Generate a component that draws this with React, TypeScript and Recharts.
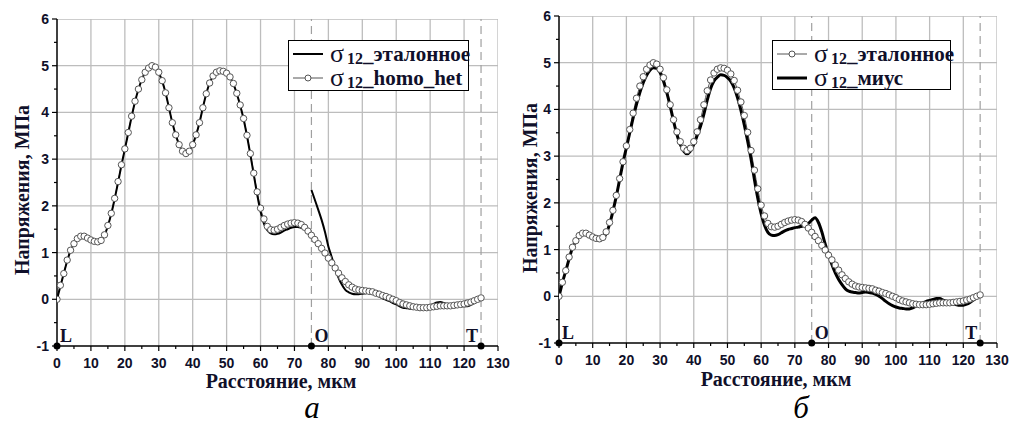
import React from 'react'
import { LineChart, Line, XAxis, YAxis, ReferenceLine, ReferenceDot, Legend } from 'recharts'

// σ12 reference solution (open circles), sampled every 1 µm from 0 to 125 µm
const REF = [
  0.0, 0.3, 0.55, 0.84, 1.05, 1.19, 1.3, 1.35, 1.35, 1.31,
  1.27, 1.24, 1.23, 1.26, 1.38, 1.58, 1.84, 2.16, 2.52, 2.88,
  3.22, 3.57, 3.92, 4.24, 4.5, 4.7, 4.86, 4.95, 5.0, 4.97,
  4.86, 4.68, 4.42, 4.1, 3.78, 3.52, 3.31, 3.17, 3.12, 3.17,
  3.31, 3.52, 3.78, 4.1, 4.4, 4.63, 4.78, 4.86, 4.89, 4.88,
  4.84, 4.76, 4.62, 4.41, 4.16, 3.87, 3.51, 3.12, 2.7, 2.3,
  1.95, 1.72, 1.56, 1.49, 1.48, 1.5, 1.54, 1.58, 1.61, 1.63,
  1.64, 1.63, 1.6, 1.54, 1.46, 1.37, 1.28, 1.19, 1.09, 0.99,
  0.88, 0.78, 0.67, 0.56, 0.46, 0.38, 0.31, 0.26, 0.22, 0.2,
  0.19, 0.18, 0.17, 0.16, 0.13, 0.11, 0.08, 0.06, 0.03, 0.0,
  -0.03, -0.07, -0.1, -0.12, -0.14, -0.16, -0.17, -0.18, -0.18, -0.18,
  -0.17, -0.16, -0.15, -0.14, -0.14, -0.14, -0.14, -0.13, -0.12, -0.11,
  -0.1, -0.08, -0.06, -0.03, 0.0, 0.03,
]

// panel (a) solid line, part before the interface O (0..75 µm)
const LEFT_SOLID_A = [
  0.0, 0.28, 0.55, 0.82, 1.04, 1.19, 1.3, 1.35, 1.35, 1.3,
  1.26, 1.23, 1.22, 1.25, 1.37, 1.57, 1.83, 2.15, 2.5, 2.87,
  3.21, 3.56, 3.91, 4.23, 4.49, 4.7, 4.86, 4.95, 4.99, 4.96,
  4.85, 4.67, 4.42, 4.1, 3.78, 3.52, 3.31, 3.17, 3.12, 3.17,
  3.31, 3.52, 3.78, 4.1, 4.4, 4.63, 4.78, 4.86, 4.88, 4.87,
  4.83, 4.75, 4.61, 4.4, 4.15, 3.86, 3.5, 3.1, 2.67, 2.25,
  1.88, 1.62, 1.48, 1.41, 1.39, 1.4, 1.43, 1.47, 1.5, 1.53,
  1.55, 1.55, 1.53, 1.5, 1.47, 1.45,
]

// panel (a) solid line, part after O (75..125 µm)
const LEFT_SOLID_B_START = 75
const LEFT_SOLID_B = [
  2.34, 2.13, 1.92, 1.7, 1.44, 1.13, 0.9, 0.66, 0.46, 0.31,
  0.2, 0.15, 0.12, 0.11, 0.11, 0.12, 0.13, 0.14, 0.13, 0.1,
  0.06, 0.02, -0.01, -0.04, -0.08, -0.11, -0.15, -0.18, -0.19, -0.2,
  -0.2, -0.2, -0.2, -0.19, -0.16, -0.13, -0.1, -0.07, -0.06, -0.08,
  -0.11, -0.13, -0.14, -0.15, -0.15, -0.15, -0.15, -0.12, -0.08, -0.04,
  0.01,
]

// panel (б) solid line (МИУС)
const MIUS = [
  0.0, 0.29, 0.54, 0.8, 1.04, 1.18, 1.29, 1.34, 1.33, 1.28,
  1.25, 1.22, 1.2, 1.23, 1.34, 1.54, 1.82, 2.14, 2.5, 2.86,
  3.18, 3.5, 3.82, 4.11, 4.36, 4.57, 4.73, 4.84, 4.89, 4.88,
  4.79, 4.61, 4.36, 4.07, 3.75, 3.46, 3.25, 3.11, 3.05, 3.11,
  3.25, 3.44, 3.64, 3.9, 4.2, 4.45, 4.61, 4.69, 4.74, 4.73,
  4.68, 4.6, 4.46, 4.25, 3.98, 3.67, 3.32, 2.94, 2.5, 2.1,
  1.77, 1.52, 1.37, 1.31, 1.3, 1.32, 1.36, 1.4, 1.43, 1.45,
  1.47, 1.48, 1.5, 1.52, 1.56, 1.63, 1.68, 1.58, 1.38, 1.12,
  0.9, 0.68, 0.5, 0.36, 0.25, 0.16, 0.11, 0.09, 0.08, 0.07,
  0.08, 0.09, 0.08, 0.07, 0.04, 0.0, -0.05, -0.11, -0.16, -0.2,
  -0.23, -0.25, -0.26, -0.27, -0.27, -0.25, -0.21, -0.17, -0.14, -0.11,
  -0.09, -0.07, -0.05, -0.05, -0.08, -0.11, -0.14, -0.16, -0.18, -0.19,
  -0.19, -0.17, -0.13, -0.08, -0.03, 0.01,
]

const X_DOMAIN: [number, number] = [0, 130]
const Y_DOMAIN: [number, number] = [-1, 6]
const X_TICKS = [0, 5, 10, 15, 20, 25, 30, 35, 40, 45, 50, 55, 60, 65, 70, 75, 80, 85, 90, 95, 100, 105, 110, 115, 120, 125, 130]
const X_MAJOR = [10, 20, 30, 40, 50, 60, 70, 80, 90, 100, 110, 120, 130]
const Y_TICKS = [-1, -0.5, 0, 0.5, 1, 1.5, 2, 2.5, 3, 3.5, 4, 4.5, 5, 5.5, 6]
const Y_MAJOR = [0, 1, 2, 3, 4, 5, 6]
const DASHED_AT = [75, 125]
const MARKS: { x: number; text: string; side: 'left' | 'right' }[] = [
  { x: 0, text: 'L', side: 'right' },
  { x: 75, text: 'O', side: 'right' },
  { x: 125, text: 'T', side: 'left' },
]

const X_TITLE = 'Расстояние, мкм'
const Y_TITLE = 'Напряжения, МПа'

const LEFT_ROWS = REF.map((v, i) => ({
  x: i,
  ref: v,
  a: i < LEFT_SOLID_A.length ? LEFT_SOLID_A[i] : null,
  b: i >= LEFT_SOLID_B_START ? LEFT_SOLID_B[i - LEFT_SOLID_B_START] : null,
}))

const RIGHT_ROWS = REF.map((v, i) => ({ x: i, ref: v, mius: MIUS[i] }))

// grid lines built from the major tick values, spanning the axis domains
const V_GRID = X_MAJOR.map((v) => [
  { x: v, y: Y_DOMAIN[0] },
  { x: v, y: Y_DOMAIN[1] },
])
const H_GRID = Y_MAJOR.map((v) => [
  { x: X_DOMAIN[0], y: v },
  { x: X_DOMAIN[1], y: v },
])

const SERIF = '"Liberation Serif", "Times New Roman", serif'
const SANS = '"Liberation Sans", Arial, sans-serif'
const INK = '#10102a'
const GRID = '#bdbdbd'
const CIRCLE = '#555'

function XTick(props: any) {
  const { x, y, payload } = props
  const v = payload.value
  const major = v % 10 === 0
  return (
    <g>
      <line x1={x} x2={x} y1={y} y2={y + (major ? 5 : 3)} stroke="#000" strokeWidth={1.2} />
      {major && (
        <text x={x} y={y + 17} textAnchor="middle" dominantBaseline="central" fontFamily={SANS} fontWeight="bold" fontSize={14} fill={INK}>
          {v}
        </text>
      )}
    </g>
  )
}

function YTick(props: any) {
  const { x, y, payload } = props
  const v = payload.value
  const major = Number.isInteger(v)
  return (
    <g>
      <line x1={x - (major ? 5 : 3)} x2={x} y1={y} y2={y} stroke="#000" strokeWidth={1.2} />
      {major && (
        <text x={x - 8} y={y} textAnchor="end" dominantBaseline="central" fontFamily={SANS} fontWeight="bold" fontSize={14} fill={INK}>
          {v}
        </text>
      )}
    </g>
  )
}

const markShape = (text: string, side: 'left' | 'right') => (p: any) => (
  <g>
    <circle cx={p.cx} cy={p.cy} r={3.5} fill="#000" />
    <text
      x={side === 'right' ? p.cx + 3 : p.cx - 3}
      y={p.cy - 4}
      textAnchor={side === 'right' ? 'start' : 'end'}
      fontFamily={SERIF}
      fontWeight="bold"
      fontSize={18}
      fill={INK}
    >
      {text}
    </text>
  </g>
)

interface LegendRow {
  label: string
  marker: boolean
  width: number
}

function LegendBox({ rows, w, h }: { rows: LegendRow[]; w: number; h: number }) {
  return (
    <div
      style={{
        width: w,
        height: h,
        boxSizing: 'border-box',
        border: '1px solid #000',
        background: '#fff',
        padding: '1px 4px',
        fontFamily: SERIF,
        color: INK,
      }}
    >
      {rows.map((r) => (
        <div key={r.label} style={{ display: 'flex', alignItems: 'center', height: 24, whiteSpace: 'nowrap' }}>
          <svg width={30} height={10} style={{ flex: 'none' }}>
            <line x1={0} x2={30} y1={5} y2={5} stroke={r.marker ? CIRCLE : '#000'} strokeWidth={r.width} />
            {r.marker && <circle cx={15} cy={5} r={3} fill="#fff" stroke={CIRCLE} strokeWidth={1} />}
          </svg>
          <span style={{ fontSize: 26, marginLeft: 7, lineHeight: '24px' }}>σ</span>
          <span style={{ fontSize: 16, fontWeight: 'bold', position: 'relative', top: 5, lineHeight: '24px', marginLeft: 3 }}>12</span>
          <span style={{ fontSize: 21, fontWeight: 'bold', lineHeight: '24px' }}>{r.label}</span>
        </div>
      ))}
    </div>
  )
}

function gridSeries(side: string) {
  return [...V_GRID, ...H_GRID].map((pts, i) => (
    <Line
      key={`${side}grid${i}`}
      data={pts}
      dataKey="y"
      type="linear"
      stroke={GRID}
      strokeWidth={1.3}
      dot={false}
      activeDot={false}
      legendType="none"
      isAnimationActive={false}
    />
  ))
}

export default function App() {
  const axisLine = { stroke: '#000', strokeWidth: 1.5 }
  const dashed = (side: string) =>
    DASHED_AT.map((v) => (
      <ReferenceLine key={`${side}d${v}`} x={v} stroke="#a0a0a0" strokeWidth={1.2} strokeDasharray="8 5" />
    ))
  const axes = (side: string) => [
    <XAxis
      key={`${side}x`}
      type="number"
      dataKey="x"
      domain={X_DOMAIN}
      ticks={X_TICKS}
      interval={0}
      tickSize={0}
      tickMargin={0}
      tickLine={false}
      tick={<XTick />}
      axisLine={axisLine}
      height={60}
      allowDataOverflow
    />,
    <YAxis
      key={`${side}y`}
      type="number"
      domain={Y_DOMAIN}
      ticks={Y_TICKS}
      interval={0}
      tickSize={0}
      tickMargin={0}
      tickLine={false}
      tick={<YTick />}
      axisLine={axisLine}
      width={40}
      allowDataOverflow
    />,
  ]
  const marks = (side: string) =>
    MARKS.map((m) => (
      <ReferenceDot key={`${side}m${m.text}`} x={m.x} y={-1} r={3.5} ifOverflow="visible" shape={markShape(m.text, m.side)} />
    ))
  const refLine = (side: string) => (
    <Line
      key={`${side}ref`}
      dataKey="ref"
      type="monotone"
      stroke={CIRCLE}
      strokeWidth={1}
      dot={{ r: 3.2, stroke: CIRCLE, strokeWidth: 1, fill: '#fff' }}
      activeDot={false}
      isAnimationActive={false}
    />
  )

  return (
    <div style={{ position: 'absolute', left: 0, top: 0, width: 1015, height: 426, background: '#fff', overflow: 'hidden' }}>
      <div style={{ position: 'absolute', left: 0, top: 0 }}>
        <LineChart width={510} height={426} data={LEFT_ROWS} margin={{ top: 19, right: 12, bottom: 20, left: 17 }}>
          {axes('l')}
          {gridSeries('l')}
          {dashed('l')}
          {refLine('l')}
          <Line dataKey="a" type="monotone" stroke="#000" strokeWidth={2} dot={false} activeDot={false} isAnimationActive={false} />
          <Line dataKey="b" type="monotone" stroke="#000" strokeWidth={2} dot={false} activeDot={false} isAnimationActive={false} />
          {marks('l')}
          <Legend
            layout="vertical"
            align="center"
            verticalAlign="middle"
            wrapperStyle={{ left: 288, top: 40, width: 181, height: 51 }}
            content={() => (
              <LegendBox
                w={181}
                h={51}
                rows={[
                  { label: '_эталонное', marker: false, width: 2 },
                  { label: '_homo_het', marker: true, width: 1 },
                ]}
              />
            )}
          />
        </LineChart>
      </div>
      <div style={{ position: 'absolute', left: 510, top: 0 }}>
        <LineChart width={505} height={426} data={RIGHT_ROWS} margin={{ top: 16, right: 18, bottom: 23, left: 9 }}>
          {axes('r')}
          {gridSeries('r')}
          {dashed('r')}
          {refLine('r')}
          <Line dataKey="mius" type="monotone" stroke="#000" strokeWidth={3} dot={false} activeDot={false} isAnimationActive={false} />
          {marks('r')}
          <Legend
            layout="vertical"
            align="center"
            verticalAlign="middle"
            wrapperStyle={{ left: 262, top: 40, width: 179, height: 50 }}
            content={() => (
              <LegendBox
                w={179}
                h={50}
                rows={[
                  { label: '_эталонное', marker: true, width: 1 },
                  { label: '_миус', marker: false, width: 3 },
                ]}
              />
            )}
          />
        </LineChart>
      </div>
      <svg width={1015} height={426} style={{ position: 'absolute', left: 0, top: 0, pointerEvents: 'none' }}>
        <g fontFamily={SERIF} fontWeight="bold" fontSize={20} fill={INK} textAnchor="middle">
          <text x={281} y={388}>{X_TITLE}</text>
          <text x={776} y={386}>{X_TITLE}</text>
          <text transform="translate(22,190) rotate(-90)" dominantBaseline="central">{Y_TITLE}</text>
          <text transform="translate(530,188) rotate(-90)" dominantBaseline="central">{Y_TITLE}</text>
        </g>
        <g fontFamily={SERIF} fontStyle="italic" fontSize={31} fill="#000" textAnchor="middle">
          <text x={312} y={418}>а</text>
          <text x={801} y={418}>б</text>
        </g>
      </svg>
    </div>
  )
}
